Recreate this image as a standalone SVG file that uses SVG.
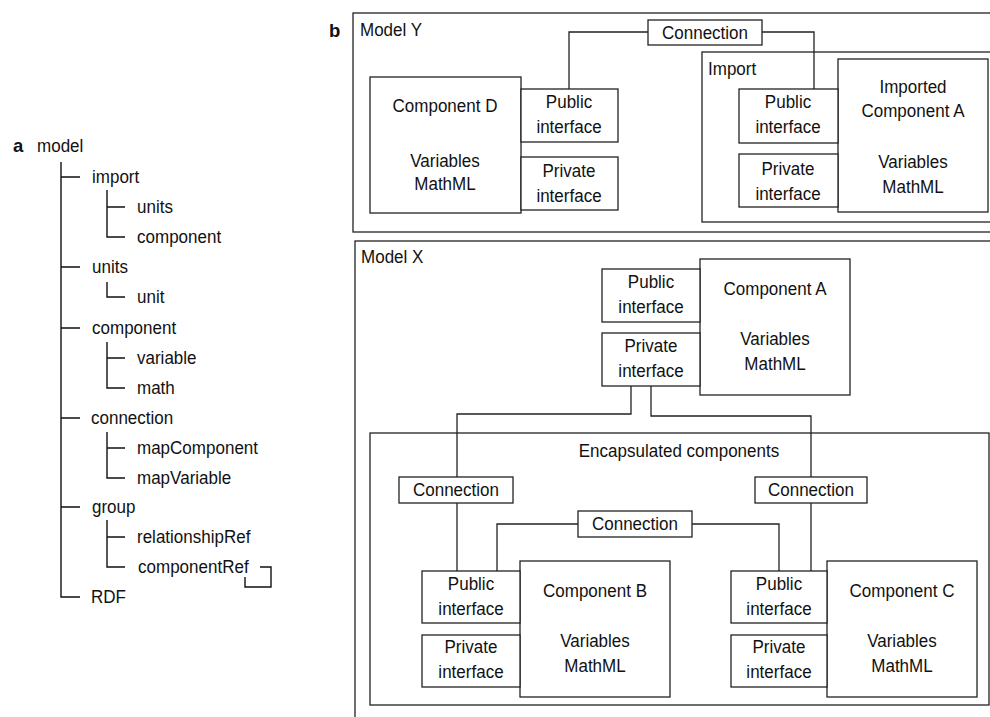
<svg xmlns="http://www.w3.org/2000/svg" width="990" height="717" viewBox="0 0 990 717">
  <style>
    text { font-family: "Liberation Sans", Arial, sans-serif; font-size: 18.5px; fill: #111;
           transform-box: fill-box; transform-origin: 0% 50%; transform: scaleX(0.92); }
    .bold { font-weight: bold; transform: none; }
    .mid { text-anchor: middle; transform-origin: 50% 50%; }
    .box { fill: #fff; stroke: #222; stroke-width: 1.3; }
    .frame { fill: none; stroke: #222; stroke-width: 1.3; }
    .wire { fill: none; stroke: #222; stroke-width: 1.3; }
    .tree { fill: none; stroke: #111; stroke-width: 1.4; }
  </style>

  <!-- Panel a: CellML element tree -->
  <g id="panel-a">
    <text class="bold" x="13" y="152">a</text>
    <text x="37" y="152">model</text>
    <g id="tree-lines">
      <path class="tree" d="M61,162 V597 H80"/>
      <path class="tree" d="M61,177 H80 M61,267 H80 M61,328 H80 M61,418 H80 M61,507 H80"/>
      <path class="tree" d="M107,190 V237 H125 M107,207 H125"/>
      <path class="tree" d="M107,282 V297 H125"/>
      <path class="tree" d="M107,342 V388 H125 M107,358 H125"/>
      <path class="tree" d="M107,432 V478 H125 M107,448 H125"/>
      <path class="tree" d="M107,520 V567 H125 M107,537 H125"/>
      <path class="tree" d="M260,567 H271 V587 H245 V577"/>
    </g>
    <text x="92" y="183">import</text>
    <text x="137" y="213">units</text>
    <text x="137" y="243">component</text>
    <text x="92" y="273">units</text>
    <text x="137" y="303">unit</text>
    <text x="92" y="334">component</text>
    <text x="137" y="364">variable</text>
    <text x="137" y="394">math</text>
    <text x="91" y="424">connection</text>
    <text x="137" y="454">mapComponent</text>
    <text x="137" y="484">mapVariable</text>
    <text x="92" y="513">group</text>
    <text x="137" y="543">relationshipRef</text>
    <text x="138" y="573">componentRef</text>
    <text x="91" y="603">RDF</text>
  </g>

  <!-- Panel b label -->
  <text class="bold" x="329" y="37">b</text>

  <!-- Containers -->
  <g id="model-y">
    <rect class="frame" x="353" y="13" width="660" height="219"/>
    <text x="360" y="36">Model Y</text>
  </g>
  <g id="import">
    <rect class="frame" x="702" y="52" width="320" height="170"/>
    <text x="708" y="75">Import</text>
  </g>
  <g id="model-x">
    <rect class="frame" x="355" y="241" width="660" height="500"/>
    <text x="361" y="263">Model X</text>
  </g>
  <g id="encapsulated">
    <rect class="frame" x="370" y="433" width="619" height="272"/>
    <text class="mid" x="679" y="457">Encapsulated components</text>
  </g>

  <!-- Connectors -->
  <g id="connectors">
    <path class="wire" d="M569,89 V32 H648"/>
    <path class="wire" d="M762,32 H814 V89"/>
    <path class="wire" d="M631,386 V414 H457 V477"/>
    <path class="wire" d="M651,386 V416 H811 V477"/>
    <path class="wire" d="M457,503 V571"/>
    <path class="wire" d="M811,503 V571"/>
    <path class="wire" d="M578,524 H497 V571"/>
    <path class="wire" d="M692,524 H779 V571"/>
  </g>

  <!-- Model Y: Component D -->
  <g id="component-d">
    <rect class="box" x="370" y="77" width="151" height="136"/>
    <text class="mid" x="445" y="112">Component D</text>
    <text class="mid" x="445" y="167">Variables</text>
    <text class="mid" x="445" y="190">MathML</text>
  </g>
  <g id="d-public">
    <rect class="box" x="521" y="89" width="97" height="53"/>
    <text class="mid" x="569" y="108">Public</text>
    <text class="mid" x="569" y="133">interface</text>
  </g>
  <g id="d-private">
    <rect class="box" x="521" y="157" width="97" height="53"/>
    <text class="mid" x="569" y="177">Private</text>
    <text class="mid" x="569" y="202">interface</text>
  </g>
  <g id="connection-y">
    <rect class="box" x="648" y="20" width="114" height="25"/>
    <text class="mid" x="705" y="39">Connection</text>
  </g>

  <!-- Import: Imported Component A -->
  <g id="imported-a">
    <rect class="box" x="838" y="59" width="150" height="153"/>
    <text class="mid" x="913" y="93">Imported</text>
    <text class="mid" x="913" y="117">Component A</text>
    <text class="mid" x="913" y="168">Variables</text>
    <text class="mid" x="913" y="193">MathML</text>
  </g>
  <g id="imported-a-public">
    <rect class="box" x="739" y="89" width="99" height="54"/>
    <text class="mid" x="788" y="108">Public</text>
    <text class="mid" x="788" y="133">interface</text>
  </g>
  <g id="imported-a-private">
    <rect class="box" x="739" y="154" width="99" height="53"/>
    <text class="mid" x="788" y="175">Private</text>
    <text class="mid" x="788" y="200">interface</text>
  </g>

  <!-- Model X: Component A -->
  <g id="component-a">
    <rect class="box" x="700" y="259" width="150" height="136"/>
    <text class="mid" x="775" y="295">Component A</text>
    <text class="mid" x="775" y="345">Variables</text>
    <text class="mid" x="775" y="370">MathML</text>
  </g>
  <g id="a-public">
    <rect class="box" x="602" y="269" width="98" height="53"/>
    <text class="mid" x="651" y="288">Public</text>
    <text class="mid" x="651" y="313">interface</text>
  </g>
  <g id="a-private">
    <rect class="box" x="602" y="333" width="98" height="53"/>
    <text class="mid" x="651" y="352">Private</text>
    <text class="mid" x="651" y="377">interface</text>
  </g>

  <!-- Connection labels inside the encapsulation -->
  <g id="connection-left">
    <rect class="box" x="399" y="477" width="114" height="26"/>
    <text class="mid" x="456" y="496">Connection</text>
  </g>
  <g id="connection-right">
    <rect class="box" x="755" y="477" width="112" height="26"/>
    <text class="mid" x="811" y="496">Connection</text>
  </g>
  <g id="connection-middle">
    <rect class="box" x="578" y="511" width="114" height="26"/>
    <text class="mid" x="635" y="530">Connection</text>
  </g>

  <!-- Component B -->
  <g id="component-b">
    <rect class="box" x="520" y="561" width="150" height="136"/>
    <text class="mid" x="595" y="597">Component B</text>
    <text class="mid" x="595" y="647">Variables</text>
    <text class="mid" x="595" y="672">MathML</text>
  </g>
  <g id="b-public">
    <rect class="box" x="422" y="571" width="98" height="52"/>
    <text class="mid" x="471" y="590">Public</text>
    <text class="mid" x="471" y="615">interface</text>
  </g>
  <g id="b-private">
    <rect class="box" x="422" y="635" width="98" height="52"/>
    <text class="mid" x="471" y="653">Private</text>
    <text class="mid" x="471" y="678">interface</text>
  </g>

  <!-- Component C -->
  <g id="component-c">
    <rect class="box" x="827" y="561" width="150" height="136"/>
    <text class="mid" x="902" y="597">Component C</text>
    <text class="mid" x="902" y="647">Variables</text>
    <text class="mid" x="902" y="672">MathML</text>
  </g>
  <g id="c-public">
    <rect class="box" x="731" y="571" width="96" height="52"/>
    <text class="mid" x="779" y="590">Public</text>
    <text class="mid" x="779" y="615">interface</text>
  </g>
  <g id="c-private">
    <rect class="box" x="731" y="635" width="96" height="52"/>
    <text class="mid" x="779" y="653">Private</text>
    <text class="mid" x="779" y="678">interface</text>
  </g>
</svg>
